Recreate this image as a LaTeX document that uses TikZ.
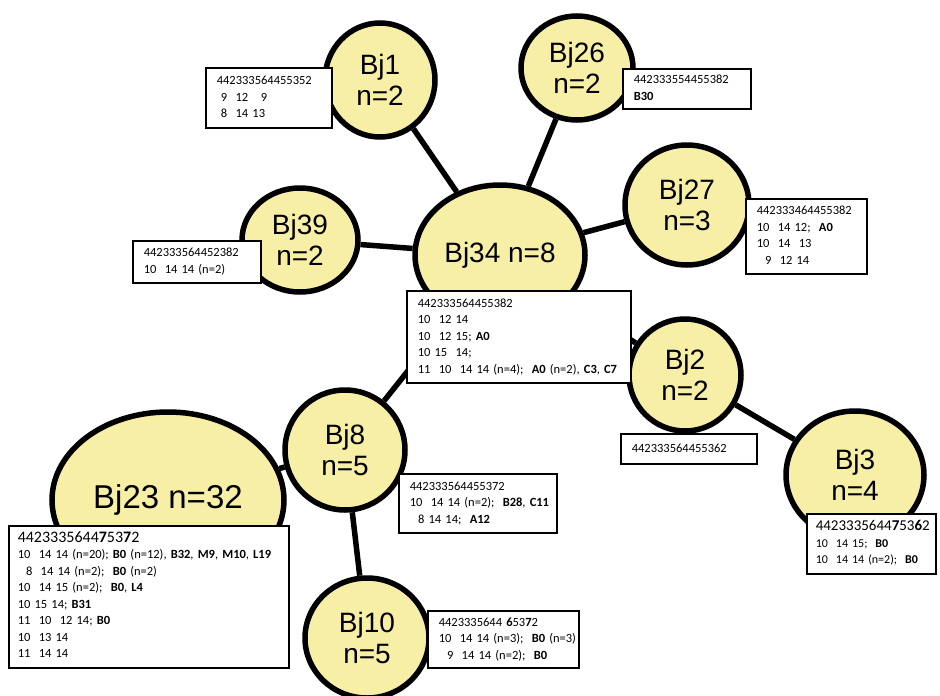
\documentclass[tikz,border=0pt]{standalone}
\usepackage{fontspec}
\setmainfont{Carlito}
\newfontfamily\labelfont{Liberation Sans}
\usetikzlibrary{shapes.geometric,backgrounds}
\definecolor{paleyellow}{RGB}{248,239,166}
\newcommand{\haplist}[1]{\begin{tabular}{@{}l@{}}#1\end{tabular}}

\begin{document}
\begin{tikzpicture}[x=1pt,y=-1pt,
        clusternode/.style={ellipse, draw=black, line width=5.5pt, fill=paleyellow, inner sep=0pt, align=center, font=\labelfont\fontsize{28}{31}\selectfont},
        infobox/.style={rectangle, draw=black, line width=1.5pt, fill=white, anchor=north west, align=left, inner xsep=11pt, inner ysep=3pt, font=\fontsize{12.5}{16.5}\selectfont},
        link/.style={line width=5.5pt}]
        \useasboundingbox (0,0) rectangle (940,696);
        \node[clusternode, minimum width=170pt, minimum height=140pt] (bj34) at (500,255) {Bj34 n=8};
        \node[clusternode, minimum width=110pt, minimum height=114pt] (bj1) at (380,80) {Bj1\\n=2};
        \node[clusternode, minimum width=112pt, minimum height=104pt] (bj26) at (577,68) {Bj26\\n=2};
        \node[clusternode, minimum width=124pt, minimum height=120pt] (bj27) at (687,205) {Bj27\\n=3};
        \node[clusternode, minimum width=116pt, minimum height=104pt] (bj39) at (300,240) {Bj39\\n=2};
        \node[clusternode, minimum width=112pt, minimum height=112pt] (bj2) at (685,375) {Bj2\\n=2};
        \node[clusternode, minimum width=138pt, minimum height=128pt] (bj3) at (855,475) {Bj3\\n=4};
        \node[clusternode, minimum width=120pt, minimum height=120pt] (bj8) at (345,450) {Bj8\\n=5};
        \node[clusternode, minimum width=232pt, minimum height=176pt, font=\labelfont\fontsize{33}{36}\selectfont] (bj23) at (168,500) {Bj23 n=32};
        \node[clusternode, minimum width=124pt, minimum height=120pt] (bj10) at (367,638) {Bj10\\n=5};
        % edges behind the clusters
        \begin{scope}[on background layer]
        \draw[link] (bj1) -- (bj34);
        \draw[link] (bj26) -- (bj34);
        \draw[link] (bj27) -- (bj34);
        \draw[link] (bj39) -- (bj34);
        \draw[link] (bj34) -- (bj2);
        \draw[link] (bj34) -- (bj8);
        \draw[link] (bj2) -- (bj3);
        \draw[link] (bj8) -- (bj23);
        \draw[link] (bj8) -- (bj10);
        \end{scope}
        % haplotype boxes
        \node[infobox, text width=104pt, minimum height=60pt] (hap1) at (205,67) {\haplist{442333564455352\\~9~ 12~~ 9\\~8~ 14 13}};
        \node[infobox, text width=106pt, minimum height=40pt] (hap26) at (622,68) {\haplist{442333554455382\\\textbf{B30}}};
        \node[infobox, text width=99pt, minimum height=75pt] (hap27) at (745,198) {\haplist{442333464455382\\10~ 14 12;~ \textbf{A0}\\10~ 14~ 13\\~~9~ 12 14}};
        \node[infobox, text width=106pt, minimum height=42pt] (hap39) at (132,240) {\haplist{442333564452382\\10~ 14 14 (n=2)}};
        \node[infobox, text width=202pt, minimum height=92pt] (hap34) at (406,290) {\haplist{442333564455382\\10~ 12 14\\10~ 12 15; \textbf{A0}\\10 15~ 14;\\11~ 10~ 14 14 (n=4);~ \textbf{A0} (n=2), \textbf{C3}, \textbf{C7}}};
        \node[infobox, text width=114pt, minimum height=30pt] (hap2) at (620,433) {\haplist{442333564455362}};
        \node[infobox, text width=136pt, minimum height=59pt] (hap8) at (398,473) {\haplist{442333564455372\\10~ 14 14 (n=2);~ \textbf{B28}, \textbf{C11}\\~~8 14 14;~ \textbf{A12}}};
        \node[infobox, text width=111pt, minimum height=60pt, inner xsep=9pt, font=\fontsize{12}{16.5}\selectfont] (hap3) at (806,513) {\haplist{{\fontsize{15}{19}\selectfont 4423335644\textbf{7}53\textbf{6}2}\\10~ 14 15;~ \textbf{B0}\\10~ 14 14 (n=2);~ \textbf{B0}}};
        \node[infobox, text width=262pt, minimum height=142pt, inner xsep=9pt] (hap23) at (8,525) {\haplist{{\fontsize{16}{19}\selectfont 4423335644\textbf{7}53\textbf{7}2}\\10~ 14 14 (n=20); \textbf{B0} (n=12), \textbf{B32}, \textbf{M9}, \textbf{M10}, \textbf{L19}\\~~8~ 14 14 (n=2);~ \textbf{B0} (n=2)\\10~ 14 15 (n=2);~ \textbf{B0}, \textbf{L4}\\10 15 14; \textbf{B31}\\11~ 10~ 12 14; \textbf{B0}\\10~ 13 14\\11~ 14 14}};
        \node[infobox, text width=129pt, minimum height=57pt] (hap10) at (427,610) {\haplist{4423335644 \textbf{6}53\textbf{7}2\\10~ 14 14 (n=3);~ \textbf{B0} (n=3)\\~~9~ 14 14 (n=2);~ \textbf{B0}}};
\end{tikzpicture}
\end{document}
